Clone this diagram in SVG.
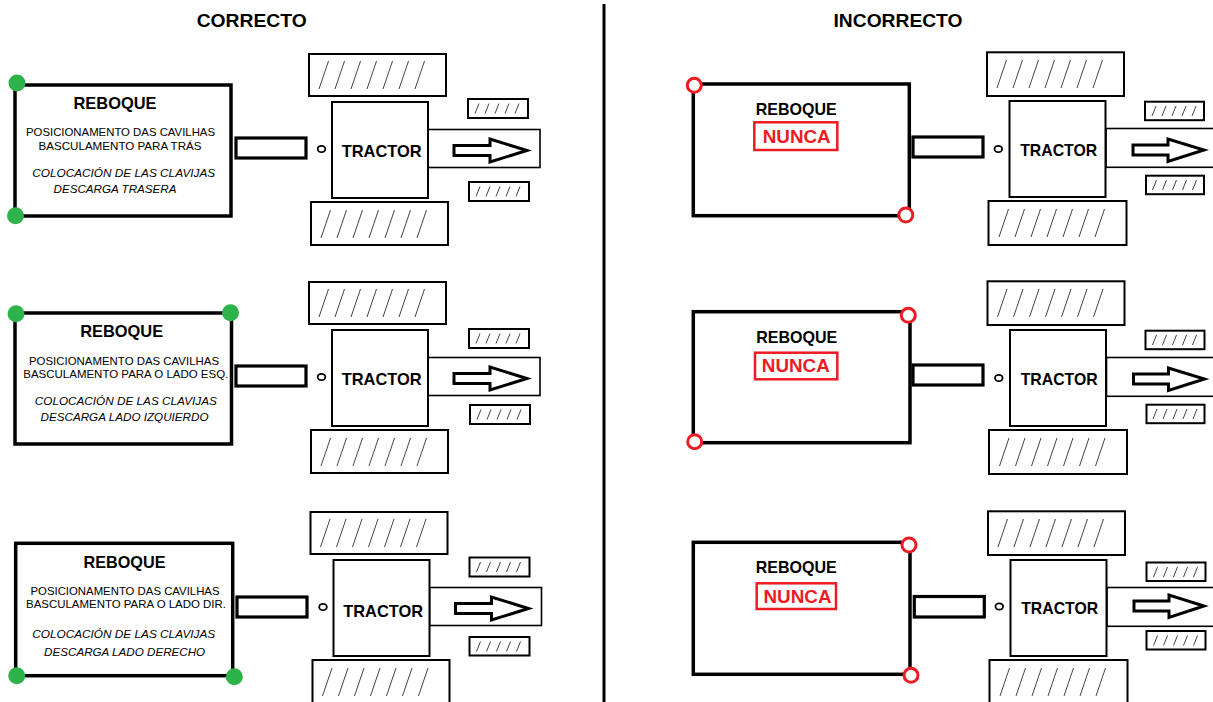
<svg xmlns="http://www.w3.org/2000/svg" width="1213" height="702" viewBox="0 0 1213 702">
  <style>
    text { font-family: "Liberation Sans", Arial, sans-serif; fill: #000; }
    .title { font-size: 18px; font-weight: bold; text-anchor: middle; }
    .name { font-size: 17px; font-weight: bold; text-anchor: middle; }
    .pt { font-size: 11.3px; text-anchor: middle; }
    .es { font-size: 11.5px; font-style: italic; text-anchor: middle; }
    .nunca { font-size: 18.5px; font-weight: bold; text-anchor: middle; fill: #ed1c24; }
    .trailer { fill: #fff; stroke: #000; stroke-width: 3.5; }
    .bar { fill: #fff; stroke: #000; stroke-width: 3.2; }
    .part { fill: #fff; stroke: #000; stroke-width: 2; }
    .hood { fill: #fff; stroke: #000; stroke-width: 1.6; }
    .pin { fill: #fff; stroke: #000; stroke-width: 1.8; }
    .hatch { stroke: #444; stroke-width: 1; fill: none; }
    .arrow { fill: #fff; stroke: #000; stroke-width: 3; stroke-linejoin: miter; }
    .ok { fill: #2db34a; }
    .bad { fill: #fff; stroke: #ed1c24; stroke-width: 3; }
    .nbox { fill: #fff; stroke: #ed1c24; stroke-width: 2.5; }
    .divider { stroke: #000; stroke-width: 3; }
  </style>
  <defs>
    <!-- tyre tread slashes for the big wheels -->
    <g id="tread" class="hatch">
      <line x1="10" y1="35" x2="19.5" y2="7"/>
      <line x1="26" y1="35" x2="35.5" y2="7"/>
      <line x1="42" y1="35" x2="51.5" y2="7"/>
      <line x1="58" y1="35" x2="67.5" y2="7"/>
      <line x1="74" y1="35" x2="83.5" y2="7"/>
      <line x1="90" y1="35" x2="99.5" y2="7"/>
      <line x1="106" y1="35" x2="115.5" y2="7"/>
    </g>
    <!-- tread slashes for the small front wheels -->
    <g id="tread-small" class="hatch">
      <line x1="7" y1="14.5" x2="11" y2="4.5"/>
      <line x1="17" y1="14.5" x2="21" y2="4.5"/>
      <line x1="27" y1="14.5" x2="31" y2="4.5"/>
      <line x1="37" y1="14.5" x2="41" y2="4.5"/>
      <line x1="47" y1="14.5" x2="51" y2="4.5"/>
    </g>
  </defs>

  <rect width="1213" height="702" fill="#fff"/>

  <!-- headings and centre divider -->
  <g id="headings">
    <text class="title" x="251.7" y="27" textLength="110" lengthAdjust="spacingAndGlyphs">CORRECTO</text>
    <text class="title" x="898" y="27" textLength="129" lengthAdjust="spacingAndGlyphs">INCORRECTO</text>
    <line class="divider" x1="604" y1="4" x2="604" y2="702"/>
  </g>

  <!-- ===== left column: correct pin positions ===== -->
  <g id="trailer-ok-rear">
    <rect class="trailer" x="15" y="85" width="216" height="131"/>
    <text class="name" x="115" y="109.3" textLength="83" lengthAdjust="spacingAndGlyphs">REBOQUE</text>
    <text class="pt" x="120.5" y="135.5" textLength="189" lengthAdjust="spacingAndGlyphs">POSICIONAMENTO DAS CAVILHAS</text>
    <text class="pt" x="120" y="150" textLength="163" lengthAdjust="spacingAndGlyphs">BASCULAMENTO PARA TRÁS</text>
    <text class="es" x="123.7" y="176.5" textLength="183" lengthAdjust="spacingAndGlyphs">COLOCACIÓN DE LAS CLAVIJAS</text>
    <text class="es" x="115" y="193" textLength="123" lengthAdjust="spacingAndGlyphs">DESCARGA TRASERA</text>
    <circle class="ok" cx="17" cy="83" r="8.5"/>
    <circle class="ok" cx="15.5" cy="215.7" r="8.5"/>
  </g>

  <g id="trailer-ok-left">
    <rect class="trailer" x="15" y="313" width="216.5" height="131"/>
    <text class="name" x="121.7" y="337.3" textLength="83" lengthAdjust="spacingAndGlyphs">REBOQUE</text>
    <text class="pt" x="124" y="365" textLength="190" lengthAdjust="spacingAndGlyphs">POSICIONAMENTO DAS CAVILHAS</text>
    <text class="pt" x="125.8" y="378" textLength="205" lengthAdjust="spacingAndGlyphs">BASCULAMENTO PARA O LADO ESQ.</text>
    <text class="es" x="125.8" y="405" textLength="182" lengthAdjust="spacingAndGlyphs">COLOCACIÓN DE LAS CLAVIJAS</text>
    <text class="es" x="124.5" y="420.5" textLength="168" lengthAdjust="spacingAndGlyphs">DESCARGA LADO IZQUIERDO</text>
    <circle class="ok" cx="16" cy="313.7" r="8.5"/>
    <circle class="ok" cx="230.5" cy="312.8" r="8.5"/>
  </g>

  <g id="trailer-ok-right">
    <rect class="trailer" x="15.7" y="543.3" width="217" height="132.4"/>
    <text class="name" x="124.5" y="568.3" textLength="82" lengthAdjust="spacingAndGlyphs">REBOQUE</text>
    <text class="pt" x="125" y="595" textLength="189" lengthAdjust="spacingAndGlyphs">POSICIONAMENTO DAS CAVILHAS</text>
    <text class="pt" x="126" y="608.3" textLength="200" lengthAdjust="spacingAndGlyphs">BASCULAMENTO PARA O LADO DIR.</text>
    <text class="es" x="123.7" y="638.3" textLength="183" lengthAdjust="spacingAndGlyphs">COLOCACIÓN DE LAS CLAVIJAS</text>
    <text class="es" x="124.6" y="656" textLength="161" lengthAdjust="spacingAndGlyphs">DESCARGA LADO DERECHO</text>
    <circle class="ok" cx="16.7" cy="675.7" r="8.5"/>
    <circle class="ok" cx="234.3" cy="676.7" r="8.5"/>
  </g>

  <!-- tractors, left column -->
  <g id="tractor-ok-1">
    <rect class="part" x="309" y="54" width="137" height="42"/>
    <use href="#tread" x="309" y="54"/>
    <rect class="hood" x="428" y="129.5" width="112" height="38"/>
    <rect class="part" x="332" y="102" width="96" height="96"/>
    <rect class="part" x="468" y="99" width="60" height="19"/>
    <use href="#tread-small" x="468" y="99"/>
    <rect class="part" x="469" y="182" width="60" height="19"/>
    <use href="#tread-small" x="469" y="182"/>
    <ellipse class="pin" cx="321.5" cy="149" rx="3.8" ry="3.2"/>
    <text class="name" x="381.7" y="157.3" textLength="80" lengthAdjust="spacingAndGlyphs">TRACTOR</text>
    <polygon class="arrow" points="454,145.5 490,145.5 490,139 527,150.5 490,162 490,155.5 454,155.5"/>
    <rect class="part" x="311" y="202" width="137" height="43"/>
    <use href="#tread" x="311" y="203"/>
  </g>

  <g id="tractor-ok-2" transform="translate(0 228)">
    <rect class="part" x="309" y="54" width="137" height="42"/>
    <use href="#tread" x="309" y="54"/>
    <rect class="hood" x="428" y="129.5" width="112" height="38"/>
    <rect class="part" x="332" y="102" width="96" height="96"/>
    <rect class="part" x="469" y="101" width="60" height="19"/>
    <use href="#tread-small" x="469" y="101"/>
    <rect class="part" x="470" y="177" width="60" height="19"/>
    <use href="#tread-small" x="470" y="177"/>
    <ellipse class="pin" cx="321.5" cy="149" rx="3.8" ry="3.2"/>
    <text class="name" x="381.7" y="157.3" textLength="80" lengthAdjust="spacingAndGlyphs">TRACTOR</text>
    <polygon class="arrow" points="454,145.5 490,145.5 490,139 527,150.5 490,162 490,155.5 454,155.5"/>
    <rect class="part" x="311" y="202" width="137" height="43"/>
    <use href="#tread" x="311" y="203"/>
  </g>

  <g id="tractor-ok-3" transform="translate(1.5 458)">
    <rect class="part" x="309" y="54" width="137" height="42"/>
    <use href="#tread" x="309" y="54"/>
    <rect class="hood" x="428" y="129.5" width="112" height="38"/>
    <rect class="part" x="332" y="102" width="96" height="96"/>
    <rect class="part" x="468" y="99.5" width="60" height="19"/>
    <use href="#tread-small" x="468" y="99.5"/>
    <rect class="part" x="468" y="179" width="60" height="18.5"/>
    <use href="#tread-small" x="468" y="179"/>
    <ellipse class="pin" cx="321.5" cy="149" rx="3.8" ry="3.2"/>
    <text class="name" x="381.7" y="158.5" textLength="80" lengthAdjust="spacingAndGlyphs">TRACTOR</text>
    <polygon class="arrow" points="454,145.5 490,145.5 490,139 527,150.5 490,162 490,155.5 454,155.5"/>
    <rect class="part" x="311" y="202" width="137" height="43"/>
    <use href="#tread" x="311" y="203"/>
  </g>

  <!-- ===== right column: wrong pin positions ===== -->
  <g id="trailer-bad-1">
    <rect class="trailer" x="693.3" y="84" width="216" height="131.7"/>
    <text class="name" x="796.3" y="115" textLength="81" lengthAdjust="spacingAndGlyphs">REBOQUE</text>
    <rect class="nbox" x="754.3" y="122.3" width="83" height="27.7"/>
    <text class="nunca" x="796.7" y="142.7" textLength="68" lengthAdjust="spacingAndGlyphs">NUNCA</text>
    <circle class="bad" cx="694.3" cy="85.3" r="7"/>
    <circle class="bad" cx="905.8" cy="215" r="7"/>
  </g>

  <g id="trailer-bad-2">
    <rect class="trailer" x="693.3" y="311.7" width="216.7" height="131"/>
    <text class="name" x="796.7" y="343.3" textLength="81" lengthAdjust="spacingAndGlyphs">REBOQUE</text>
    <rect class="nbox" x="755" y="352.7" width="82.3" height="26.6"/>
    <text class="nunca" x="795.8" y="371.7" textLength="68" lengthAdjust="spacingAndGlyphs">NUNCA</text>
    <circle class="bad" cx="908.3" cy="315.3" r="7"/>
    <circle class="bad" cx="694.7" cy="441.7" r="7"/>
  </g>

  <g id="trailer-bad-3">
    <rect class="trailer" x="693.3" y="542.3" width="216.7" height="132"/>
    <text class="name" x="796.3" y="573.3" textLength="81" lengthAdjust="spacingAndGlyphs">REBOQUE</text>
    <rect class="nbox" x="756.7" y="583.3" width="79.3" height="25.7"/>
    <text class="nunca" x="797.5" y="602.7" textLength="68" lengthAdjust="spacingAndGlyphs">NUNCA</text>
    <circle class="bad" cx="909" cy="545" r="7"/>
    <circle class="bad" cx="911" cy="675.3" r="7"/>
  </g>

  <!-- tractors, right column (hood runs off the edge) -->
  <g id="tractor-bad-1">
    <rect class="part" x="987" y="52.3" width="137" height="43.7"/>
    <use href="#tread" x="987" y="53"/>
    <rect class="hood" x="1106" y="128.5" width="120" height="38.8"/>
    <rect class="part" x="1009.5" y="101" width="96" height="96"/>
    <rect class="part" x="1145" y="101.7" width="59" height="18.5"/>
    <use href="#tread-small" x="1145" y="101.5"/>
    <rect class="part" x="1146" y="175.7" width="58" height="18.5"/>
    <use href="#tread-small" x="1145.5" y="175.5"/>
    <ellipse class="pin" cx="998.3" cy="149" rx="3.8" ry="3.2"/>
    <text class="name" x="1058.7" y="155.7" textLength="77" lengthAdjust="spacingAndGlyphs">TRACTOR</text>
    <polygon class="arrow" points="1133,145 1168,145 1168,139 1204,150 1168,161.5 1168,155 1133,155"/>
    <rect class="part" x="988.5" y="201" width="138" height="44"/>
    <use href="#tread" x="989" y="202"/>
  </g>

  <g id="tractor-bad-2" transform="translate(0.5 229)">
    <rect class="part" x="987" y="52.3" width="137" height="43.7"/>
    <use href="#tread" x="987" y="53"/>
    <rect class="hood" x="1106" y="128.5" width="120" height="38.8"/>
    <rect class="part" x="1009.5" y="101" width="96" height="96"/>
    <rect class="part" x="1145" y="101.7" width="59" height="18.5"/>
    <use href="#tread-small" x="1145" y="101.5"/>
    <rect class="part" x="1146" y="175.7" width="58" height="18.5"/>
    <use href="#tread-small" x="1145.5" y="175.5"/>
    <ellipse class="pin" cx="998.3" cy="149" rx="3.8" ry="3.2"/>
    <text class="name" x="1058.7" y="155.7" textLength="77" lengthAdjust="spacingAndGlyphs">TRACTOR</text>
    <polygon class="arrow" points="1133,145 1168,145 1168,139 1204,150 1168,161.5 1168,155 1133,155"/>
    <rect class="part" x="988.5" y="201" width="138" height="44"/>
    <use href="#tread" x="989" y="202"/>
  </g>

  <g id="tractor-bad-3" transform="translate(1 459)">
    <rect class="part" x="987" y="52.3" width="137" height="43.7"/>
    <use href="#tread" x="987" y="53"/>
    <rect class="hood" x="1106" y="128.5" width="120" height="38.8"/>
    <rect class="part" x="1009.5" y="101" width="96" height="96"/>
    <rect class="part" x="1145.5" y="103.5" width="59" height="18.5"/>
    <use href="#tread-small" x="1145.5" y="103.5"/>
    <rect class="part" x="1145.5" y="172" width="59" height="18.5"/>
    <use href="#tread-small" x="1145.5" y="172"/>
    <ellipse class="pin" cx="998.3" cy="147.5" rx="3.8" ry="3.2"/>
    <text class="name" x="1058.7" y="154.5" textLength="77" lengthAdjust="spacingAndGlyphs">TRACTOR</text>
    <polygon class="arrow" points="1133,142 1168,142 1168,136 1203,147 1168,158.5 1168,152 1133,152"/>
    <rect class="part" x="988.5" y="201" width="138" height="44"/>
    <use href="#tread" x="989" y="202"/>
  </g>

  <!-- drawbars linking each trailer to its tractor -->
  <g id="connectors">
    <rect class="bar" x="236" y="138" width="70" height="20"/>
    <rect class="bar" x="236" y="366" width="70" height="20"/>
    <rect class="bar" x="237" y="597" width="70" height="20"/>
    <rect class="bar" x="913" y="137" width="70" height="20"/>
    <rect class="bar" x="913" y="365" width="70" height="20"/>
    <rect class="bar" x="914.3" y="596.5" width="70" height="20.5"/>
  </g>
</svg>
